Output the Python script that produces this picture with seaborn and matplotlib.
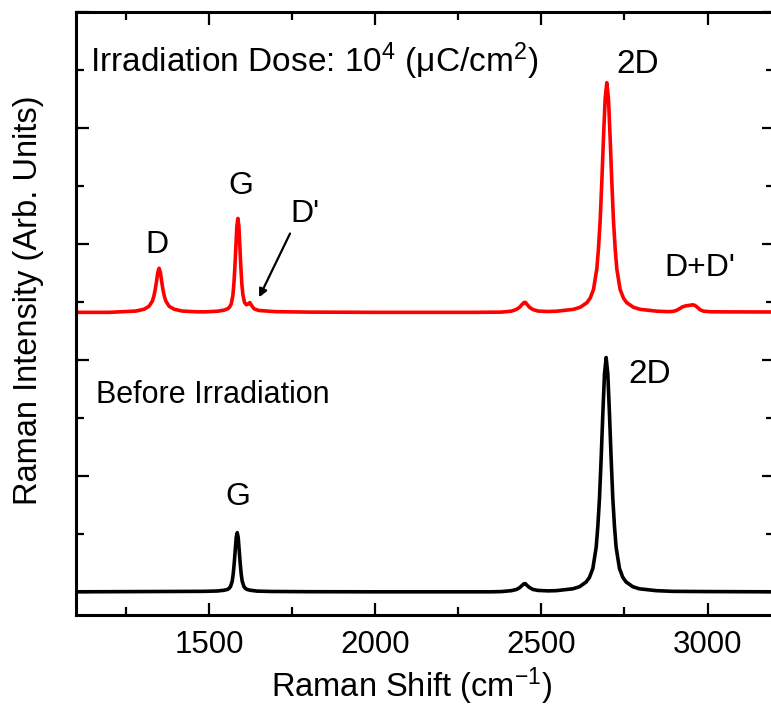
import matplotlib
matplotlib.use("Agg")
import matplotlib.pyplot as plt
from matplotlib import font_manager
from matplotlib.ticker import MultipleLocator
import numpy as np
import pandas as pd
import seaborn as sns

# ---------------- data ----------------
# Irradiated spectrum (red), Raman shift in cm^-1 and offset intensity
red_shift = [1100, 1200, 1280, 1305, 1320, 1330, 1334, 1338, 1342, 1346, 1350,
             1354, 1358, 1362, 1366, 1370, 1380, 1395, 1420, 1460, 1487, 1527,
             1547, 1557, 1562, 1567, 1572, 1575, 1578, 1581, 1584, 1587, 1590,
             1593, 1596, 1599, 1602, 1607, 1612, 1617, 1623, 1629, 1636, 1650,
             1700, 1800, 2000, 2300, 2380, 2410, 2425, 2435, 2442, 2448, 2452,
             2458, 2465, 2475, 2490, 2520, 2547, 2597, 2617, 2637, 2647, 2657,
             2667, 2672, 2677, 2682, 2687, 2692, 2697, 2702, 2707, 2712, 2717,
             2722, 2727, 2737, 2747, 2757, 2777, 2797, 2847, 2880, 2895, 2905,
             2915, 2925, 2935, 2945, 2955, 2962, 2970, 2978, 2988, 3010, 3050,
             3200]
red_int = [2.410, 2.410, 2.421, 2.437, 2.463, 2.509, 2.547, 2.600, 2.672, 2.752, 2.790,
           2.752, 2.672, 2.600, 2.547, 2.509, 2.463, 2.437, 2.421, 2.415, 2.414, 2.420,
           2.430, 2.442, 2.455, 2.483, 2.556, 2.653, 2.799, 2.977, 3.155, 3.220, 3.155,
           2.977, 2.799, 2.653, 2.564, 2.495, 2.476, 2.480, 2.494, 2.466, 2.440, 2.426,
           2.416, 2.412, 2.410, 2.410, 2.412, 2.420, 2.435, 2.455, 2.478, 2.495, 2.496,
           2.475, 2.452, 2.434, 2.421, 2.417, 2.420, 2.436, 2.454, 2.493, 2.533, 2.608,
           2.786, 2.964, 3.202, 3.539, 3.915, 4.251, 4.390, 4.251, 3.915, 3.539, 3.202,
           2.964, 2.786, 2.608, 2.533, 2.493, 2.454, 2.436, 2.420, 2.416, 2.418, 2.425,
           2.440, 2.458, 2.466, 2.470, 2.475, 2.470, 2.452, 2.432, 2.420, 2.415, 2.414,
           2.413]

# Spectrum before irradiation (black)
black_shift = [1100, 1300, 1485, 1525, 1545, 1555, 1560, 1565, 1570, 1573, 1576,
               1579, 1582, 1585, 1588, 1591, 1594, 1597, 1600, 1605, 1610, 1615,
               1625, 1645, 1685, 1800, 2000, 2350, 2380, 2410, 2425, 2435, 2442,
               2448, 2452, 2458, 2465, 2475, 2490, 2520, 2545, 2595, 2615, 2635,
               2645, 2655, 2665, 2670, 2675, 2680, 2685, 2690, 2695, 2700, 2705,
               2710, 2715, 2720, 2725, 2735, 2745, 2755, 2775, 2795, 2845, 2895,
               3000, 3200]
black_int = [0.000, 0.002, 0.004, 0.007, 0.013, 0.020, 0.028, 0.046, 0.092, 0.153, 0.245,
             0.357, 0.469, 0.510, 0.469, 0.357, 0.245, 0.153, 0.092, 0.046, 0.028, 0.020,
             0.013, 0.006, 0.003, 0.001, 0.000, 0.000, 0.002, 0.010, 0.020, 0.036, 0.055,
             0.070, 0.070, 0.052, 0.036, 0.020, 0.012, 0.008, 0.010, 0.026, 0.044, 0.085,
             0.125, 0.202, 0.384, 0.566, 0.808, 1.151, 1.535, 1.879, 2.020, 1.879, 1.535,
             1.151, 0.808, 0.566, 0.384, 0.202, 0.125, 0.085, 0.044, 0.026, 0.010, 0.004,
             0.002, 0.000]

x_ticks = [1500, 2000, 2500, 3000]
x_tick_labels = ["1500", "2000", "2500", "3000"]

# ---------------- style ----------------
sns.set_style("ticks")
installed = {f.name for f in font_manager.fontManager.ttflist}
narrow = "Liberation Sans Narrow" if "Liberation Sans Narrow" in installed else None
plt.rcParams["font.family"] = ["Liberation Sans", "DejaVu Sans"]
plt.rcParams["mathtext.fontset"] = "custom"
plt.rcParams["mathtext.rm"] = "Liberation Sans"
plt.rcParams["mathtext.it"] = "Liberation Sans:italic"
plt.rcParams["mathtext.bf"] = "Liberation Sans:bold"
for key in ["text.color", "axes.labelcolor", "xtick.color", "ytick.color",
            "axes.edgecolor"]:
    plt.rcParams[key] = "black"

fig = plt.figure(figsize=(7.71, 7.07), dpi=100)
ax = fig.add_axes([76 / 771, (707 - 615) / 707, 698 / 771, 603 / 707])

df_red = pd.DataFrame({"shift": red_shift, "intensity": red_int})
df_black = pd.DataFrame({"shift": black_shift, "intensity": black_int})
sns.lineplot(data=df_red, x="shift", y="intensity", color="#ff0000",
             linewidth=2.6, ax=ax, sort=False)
sns.lineplot(data=df_black, x="shift", y="intensity", color="black",
             linewidth=2.6, ax=ax, sort=False)

ax.set_xlim(1100, 3200)
ax.set_ylim(-0.2, 5.0)
ax.set_xticks(x_ticks)
ax.set_xticklabels(x_tick_labels)
ax.xaxis.set_minor_locator(MultipleLocator(250))
ax.yaxis.set_major_locator(MultipleLocator(1.0))
ax.yaxis.set_minor_locator(MultipleLocator(0.5))
ax.tick_params(which="both", direction="in", top=True, right=True,
               width=1.6, color="black", labelleft=False, labelcolor="black")
ax.tick_params(which="major", length=9)
ax.tick_params(which="minor", length=5.5)
ax.tick_params(axis="x", which="major", labelsize=22.5, pad=10.5)
for s in ax.spines.values():
    s.set_linewidth(2.2)
    s.set_color("black")

ax.set_xlabel(r"Raman Shift (cm$^{-1}$)", fontsize=23.5, va="baseline", color="black")
ax.xaxis.set_label_coords((412 - 76) / 698, (615 - 697) / 603)
ax.set_ylabel("Raman Intensity (Arb. Units)", fontsize=23.5, va="center", color="black")
ax.yaxis.set_label_coords((29 - 76) / 698, (615 - 300) / 603)

fs = 23
nfam = [narrow, "Liberation Sans"] if narrow else ["Liberation Sans"]
nsize = 27 if narrow else 24
ax.text(1141, 4.48, "Irradiation Dose: 10$^{4}$ (\u03bcC/cm$^{2}$)",
        fontsize=nsize, family=nfam, ha="left", va="baseline")
ax.text(2791, 4.47, "2D", fontsize=nsize, family=nfam, ha="center", va="baseline")
ax.text(2827, 1.80, "2D", fontsize=nsize, family=nfam, ha="center", va="baseline")
ax.text(1344, 2.92, "D", fontsize=fs, ha="center", va="baseline")
ax.text(1596, 3.43, "G", fontsize=fs, ha="center", va="baseline")
ax.text(1744, 3.19, "D'", fontsize=fs, ha="left", va="baseline")
ax.text(2977, 2.72, "D+D'", fontsize=fs, ha="center", va="baseline")
ax.text(1160, 1.63, "Before Irradiation", fontsize=22, ha="left", va="baseline")
ax.text(1587, 0.75, "G", fontsize=fs, ha="center", va="baseline")
ax.annotate("", xy=(1651, 2.54), xytext=(1744, 3.09),
            arrowprops=dict(arrowstyle="-|>", color="black", lw=1.6,
                            mutation_scale=12, shrinkA=0, shrinkB=0))

fig.savefig("out.png", dpi=100)
